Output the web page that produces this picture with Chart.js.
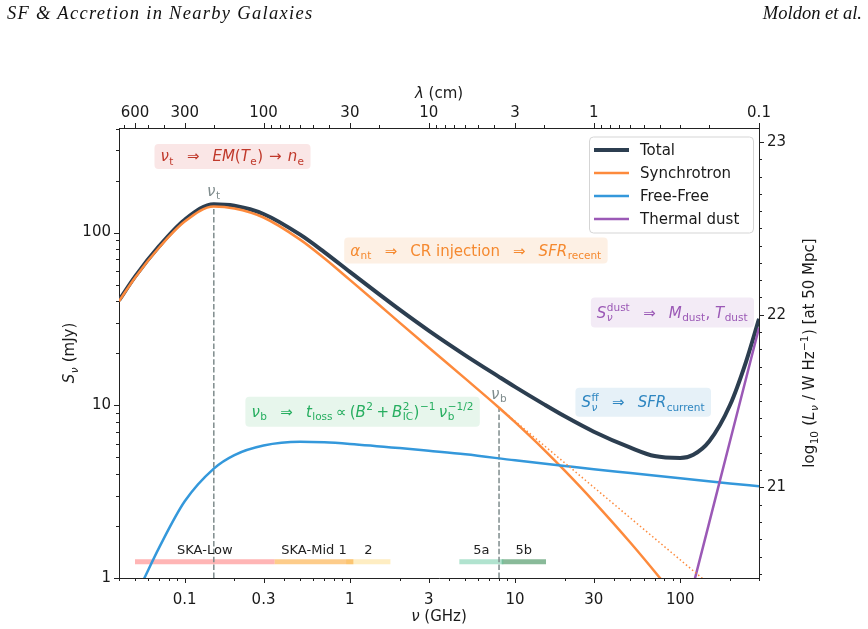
<!DOCTYPE html>
<html>
<head>
<meta charset="utf-8">
<script src="https://cdn.jsdelivr.net/npm/chart.js"></script>
<style>
  html, body { margin: 0; padding: 0; background: #fff; }
  #wrap { position: relative; width: 868px; height: 629px; }
  .hdr { position: absolute; top: 3px; font-family: "Liberation Serif", serif; font-style: italic; font-size: 18.5px; color: #111; }
</style>
</head>
<body>
<div id="wrap">
  <canvas id="sed" width="868" height="629"></canvas>
  <div class="hdr" style="left:7px; letter-spacing:1.3px">SF &amp; Accretion in Nearby Galaxies</div>
  <div class="hdr" style="right:6px">Moldon et al.</div>
</div>
<script>
// --- data (frequency in GHz, flux density in mJy) ---
const nuTotal = [0.04, 0.05, 0.07, 0.1, 0.15, 0.2, 0.3, 0.5, 0.7, 1, 1.5, 2, 3, 5, 8, 10, 15, 20, 30, 50, 70, 100, 120, 150, 200, 250, 300];
const sTotal  = [40.5, 55.6, 83.4, 118.6, 145.8, 142.9, 128.1, 97.2, 77.1, 59.2, 44.0, 35.75, 27.05, 19.46, 14.61, 12.78, 10.12, 8.63, 7.03, 5.68, 5.08, 4.95, 5.17, 6.19, 10.0, 17.8, 31.7];

const nuSynch = [0.04, 0.05, 0.07, 0.1, 0.15, 0.2, 0.3, 0.5, 0.7, 1, 1.5, 2, 3, 5, 8, 10, 15, 20, 30, 50, 77, 100];
const sSynch  = [40, 54.8, 81.9, 115.8, 141.5, 137.7, 122.2, 91, 71, 53.2, 38.2, 30.1, 21.6, 14.26, 9.68, 7.98, 5.52, 4.18, 2.77, 1.6, 0.976, 0.714];

const nuFF = [0.05, 0.057, 0.07, 0.1, 0.15, 0.2, 0.3, 0.5, 0.7, 1, 2, 3, 5, 10, 20, 30, 50, 100, 200, 300];
const sFF  = [0.77, 1.0, 1.5, 2.78, 4.3, 5.15, 5.85, 6.15, 6.1, 5.97, 5.65, 5.45, 5.2, 4.8, 4.45, 4.26, 4.05, 3.78, 3.53, 3.4];

const nuDust = [100, 150, 200, 300];
const sDust  = [0.46, 2.1, 6.17, 28.1];

// unbroken synchrotron continuation past the break
const nuSynchExt = [8, 150];
const sSynchExt  = [9.68, 0.92];

// turnover and break frequencies, and the curve value where their markers stop
const nuTurn = 0.15, sTurnTop = 141.5;
const nuBreak = 8, sBreakTop = 9.68;

// SKA bands (GHz)
const bandNames = ['SKA-Low', 'SKA-Mid 1', '2', '5a', '5b'];
const bandLo = [0.05, 0.35, 0.95, 4.6, 8.3];
const bandHi = [0.35, 1.05, 1.76, 8.5, 15.4];
const bandLevel = 1.24;

// axes
const nuTicks = [0.1, 0.3, 1, 3, 10, 30, 100];
const lamTicks = [600, 300, 100, 30, 10, 3, 1, 0.1];
const fluxTicks = [1, 10, 100];
const lumTicks = [21, 22, 23];
const nuMin = 0.04, nuMax = 300, sMin = 1, sMax = 403;
const lamPerGHz = 30;          // lambda[cm] = 30 / nu[GHz]
const lumOffset = 20.476;      // log10(4 pi d^2) at 50 Mpc, mJy -> W/Hz

const FONT = '"DejaVu Sans", sans-serif';
const C = { total: '#2c3e50', synch: '#fd8a3c', ff: '#3498db', dust: '#9b59b6', mark: '#7f8c8d', ink: '#1a1a1a' };
const bandColors = ['rgba(255,120,120,0.55)', 'rgba(252,170,60,0.6)', 'rgba(253,215,120,0.45)', 'rgba(100,200,160,0.5)', 'rgba(40,130,70,0.55)'];

const near = (list, v) => list.some(t => Math.abs(t - v) / t < 1e-6);
function logSteps(lo, hi) {
  const out = [];
  for (let e = -3; e <= 4; e++) for (let k = 1; k < 10; k++) {
    const v = parseFloat((k * Math.pow(10, e)).toPrecision(6));
    if (v >= lo * 0.9999 && v <= hi * 1.0001) out.push(v);
  }
  return out;
}

// rich text for the math labels
const I = t => ({ t, it: true });
const R = t => ({ t });
const G = g => ({ g });
const S = (sub, sup, subIt, supIt) => ({ sub, sup, subIt, supIt });
const fontStr = (it, size) => (it ? 'italic ' : '') + size + 'px ' + FONT;

function partWidth(ctx, p, size) {
  if (p.g !== undefined) return p.g;
  if (p.t !== undefined) { ctx.font = fontStr(p.it, size); return ctx.measureText(p.t).width; }
  const ss = size * 0.7; let w = 0;
  if (p.sub) { ctx.font = fontStr(p.subIt, ss); w = Math.max(w, ctx.measureText(p.sub).width); }
  if (p.sup) { ctx.font = fontStr(p.supIt, ss); w = Math.max(w, ctx.measureText(p.sup).width); }
  return w + size * 0.06;
}
function richWidth(ctx, parts, size) {
  return parts.reduce((w, p) => w + partWidth(ctx, p, size), 0);
}
function drawRich(ctx, parts, x, y, size, color) {
  ctx.fillStyle = color; ctx.textBaseline = 'alphabetic'; ctx.textAlign = 'left';
  let cx = x;
  for (const p of parts) {
    if (p.t !== undefined) { ctx.font = fontStr(p.it, size); ctx.fillText(p.t, cx, y); }
    else if (p.g === undefined) {
      const ss = size * 0.7;
      if (p.sub) { ctx.font = fontStr(p.subIt, ss); ctx.fillText(p.sub, cx + size * 0.03, y + size * 0.24); }
      if (p.sup) { ctx.font = fontStr(p.supIt, ss); ctx.fillText(p.sup, cx + size * 0.03, y - size * 0.42); }
    }
    cx += partWidth(ctx, p, size);
  }
}

const ARROW = [G(13), R('⇒'), G(13)];
const notes = [
  { parts: [I('ν'), S('t'), ...ARROW, I('EM'), R('('), I('T'), S('e'), R(')'), G(6), R('→'), G(6), I('n'), S('e')],
    nu: 0.0656, s: 276, align: 'left', h: 25, color: '#c0392b', bg: '#fae6e6' },
  { parts: [I('α'), S('nt'), ...ARROW, R('CR injection'), ...ARROW, I('SFR'), S('recent')],
    nu: 0.924, s: 78.6, align: 'left', h: 26, color: '#f5892f', bg: '#fdf0e4' },
  { parts: [I('ν'), S('b'), ...ARROW, I('t'), S('loss'), G(3), R('∝'), G(3), R('('), I('B'), S(null, '2'), G(3), R('+'), G(3),
            I('B'), S('IC', '2'), R(')'), S(null, '−1'), G(3), I('ν'), S('b', '−1/2')],
    nu: 0.233, s: 9.17, align: 'left', h: 30, color: '#27ae60', bg: '#e7f6ec' },
  { parts: [I('S'), S('ν', 'dust', true), ...ARROW, I('M'), S('dust'), R(', '), I('T'), S('dust')],
    nu: 279.8, s: 34.4, align: 'right', h: 30, color: '#9b59b6', bg: '#f3ebf6' },
  { parts: [I('S'), S('ν', 'ff', true), ...ARROW, I('SFR'), S('current')],
    nu: 153.6, s: 10.4, align: 'right', h: 29, color: '#2e86c1', bg: '#e6f1f8' }
];

function roundBox(ctx, x, y, w, h, r) {
  ctx.beginPath();
  ctx.moveTo(x + r, y); ctx.lineTo(x + w - r, y); ctx.arcTo(x + w, y, x + w, y + r, r);
  ctx.lineTo(x + w, y + h - r); ctx.arcTo(x + w, y + h, x + w - r, y + h, r);
  ctx.lineTo(x + r, y + h); ctx.arcTo(x, y + h, x, y + h - r, r);
  ctx.lineTo(x, y + r); ctx.arcTo(x, y, x + r, y, r); ctx.closePath();
}

const toPts = (xs, ys) => xs.map((x, i) => ({ x, y: ys[i] }));
function curve(label, xs, ys, color, width, order) {
  return { label, data: toPts(xs, ys), borderColor: color, borderWidth: width, pointRadius: 0,
           cubicInterpolationMode: 'monotone', fill: false, clip: 0, order, inLegend: true };
}

const datasets = [
  curve('Total', nuTotal, sTotal, C.total, 4, 5),
  curve('Synchrotron', nuSynch, sSynch, C.synch, 2.5, 4),
  curve('Free-Free', nuFF, sFF, C.ff, 2.5, 3),
  curve('Thermal dust', nuDust, sDust, C.dust, 2.5, 2),
  { data: toPts(nuSynchExt, sSynchExt), borderColor: C.synch, borderWidth: 1.5, borderDash: [1.5, 2.5],
    pointRadius: 0, clip: 0, order: 1 },
  { data: [{ x: nuTurn, y: sMin }, { x: nuTurn, y: sTurnTop }], borderColor: C.mark, borderWidth: 1.5,
    borderDash: [5.5, 2.4], pointRadius: 0, clip: 0, order: 9 },
  { data: [{ x: nuBreak, y: sMin }, { x: nuBreak, y: sBreakTop }], borderColor: C.mark, borderWidth: 1.5,
    borderDash: [5.5, 2.4], pointRadius: 0, clip: 0, order: 9 }
];
bandNames.forEach((name, i) => {
  datasets.push({ data: [{ x: bandLo[i], y: bandLevel }, { x: bandHi[i], y: bandLevel }],
    borderColor: bandColors[i], borderWidth: 5, borderCapStyle: 'butt', pointRadius: 0, clip: 0, order: 10 });
});

const decor = {
  id: 'decor',
  afterDatasetsDraw(chart) {
    const ctx = chart.ctx, ca = chart.chartArea, sx = chart.scales.x, sy = chart.scales.y;
    ctx.save();
    // marker labels
    const lt = [I('ν'), S('t')], lb = [I('ν'), S('b')];
    let px = sx.getPixelForValue(nuTurn), py = sy.getPixelForValue(sTurnTop);
    drawRich(ctx, lt, px - richWidth(ctx, lt, 15) / 2, py - 11, 15, C.mark);
    px = sx.getPixelForValue(nuBreak); py = sy.getPixelForValue(sBreakTop);
    drawRich(ctx, lb, px - richWidth(ctx, lb, 15) / 2, py - 9, 15, C.mark);
    // band labels
    ctx.font = '13px ' + FONT; ctx.fillStyle = '#222'; ctx.textAlign = 'center'; ctx.textBaseline = 'alphabetic';
    bandNames.forEach((name, i) => {
      const cx = sx.getPixelForValue(Math.sqrt(bandLo[i] * bandHi[i]));
      ctx.fillText(name, cx, sy.getPixelForValue(bandLevel) - 8);
    });
    // annotation boxes
    for (const n of notes) {
      const w = richWidth(ctx, n.parts, 15) + 12;
      const ax = sx.getPixelForValue(n.nu), ay = sy.getPixelForValue(n.s);
      const x0 = n.align === 'left' ? ax : ax - w;
      roundBox(ctx, x0, ay - n.h / 2, w, n.h, 4);
      ctx.fillStyle = n.bg; ctx.fill();
      drawRich(ctx, n.parts, x0 + 6, ay + 5, 15, n.color);
    }
    // legend
    const items = chart.data.datasets.filter(d => d.inLegend);
    const bx = ca.right - 170, by = ca.top + 8.5, bw = 164, bh = 96;
    roundBox(ctx, bx + 0.5, by + 0.5, bw, bh, 4);
    ctx.fillStyle = 'rgba(255,255,255,0.8)'; ctx.fill();
    ctx.strokeStyle = '#d5d5d5'; ctx.lineWidth = 1; ctx.stroke();
    items.forEach((d, i) => {
      const ly = by + 13.5 + i * 23;
      ctx.beginPath(); ctx.moveTo(bx + 5, ly); ctx.lineTo(bx + 40, ly);
      ctx.strokeStyle = d.borderColor; ctx.lineWidth = d.borderWidth; ctx.stroke();
      ctx.font = '15px ' + FONT; ctx.fillStyle = C.ink; ctx.textAlign = 'left'; ctx.textBaseline = 'middle';
      ctx.fillText(d.label, bx + 51, ly + 1);
    });
    ctx.restore();
  },
  afterDraw(chart) {
    const ctx = chart.ctx, ca = chart.chartArea;
    ctx.save();
    ctx.strokeStyle = '#222'; ctx.lineWidth = 1;
    const sides = { x: 'bottom', x2: 'top', y: 'left', y2: 'right' };
    for (const id in sides) {
      const sc = chart.scales[id];
      for (const t of sc.ticks) {
        const p = Math.round(sc.getPixelForValue(t.value)) + 0.5, len = t.mj ? 5 : 3;
        ctx.beginPath();
        if (sides[id] === 'bottom') { ctx.moveTo(p, ca.bottom); ctx.lineTo(p, ca.bottom + len); }
        if (sides[id] === 'top') { ctx.moveTo(p, ca.top); ctx.lineTo(p, ca.top - len); }
        if (sides[id] === 'left') { ctx.moveTo(ca.left, p); ctx.lineTo(ca.left - len, p); }
        if (sides[id] === 'right') { ctx.moveTo(ca.right, p); ctx.lineTo(ca.right + len, p); }
        ctx.stroke();
      }
    }
    // axis titles
    const cxm = (ca.left + ca.right) / 2, cym = (ca.top + ca.bottom) / 2;
    const tb = [I('ν'), R(' (GHz)')], tt = [I('λ'), R(' (cm)')];
    drawRich(ctx, tb, cxm - richWidth(ctx, tb, 15) / 2, ca.bottom + 43, 15, C.ink);
    drawRich(ctx, tt, cxm - richWidth(ctx, tt, 15) / 2, ca.top - 30, 15, C.ink);
    const tl = [I('S'), S('ν', null, true), R(' (mJy)')];
    ctx.save(); ctx.translate(ca.left - 45, cym); ctx.rotate(-Math.PI / 2);
    drawRich(ctx, tl, -richWidth(ctx, tl, 15) / 2, 0, 15, C.ink); ctx.restore();
    const tr = [R('log'), S('10'), R(' ('), I('L'), S('ν', null, true), R(' / W Hz'), S(null, '−1'), R(') [at 50 Mpc]')];
    ctx.save(); ctx.translate(ca.right + 55, cym); ctx.rotate(-Math.PI / 2);
    drawRich(ctx, tr, -richWidth(ctx, tr, 15) / 2, 0, 15, C.ink); ctx.restore();
    ctx.restore();
  }
};

const tickFont = { family: FONT, size: 15 };
const labelCb = (v, i, ticks) => ticks[i].lab || '';
const axisBase = {
  grid: { display: false, drawTicks: false },
  border: { display: true, color: '#222', width: 1 },
  ticks: { font: tickFont, color: C.ink, autoSkip: false, maxRotation: 0, callback: labelCb }
};

new Chart(document.getElementById('sed'), {
  type: 'line',
  data: { datasets },
  plugins: [decor],
  options: {
    responsive: false, animation: false, events: [],
    layout: { padding: 0 },
    plugins: { legend: { display: false }, tooltip: { enabled: false } },
    scales: {
      x: { ...axisBase, type: 'logarithmic', position: 'bottom', min: nuMin, max: nuMax,
        ticks: { ...axisBase.ticks, padding: 13 },
        afterBuildTicks: a => { a.ticks = logSteps(nuMin, nuMax).map(v => ({ value: v, mj: near(nuTicks, v), lab: near(nuTicks, v) ? String(v) : '' })); },
        afterFit: a => { a.height = 51; } },
      x2: { ...axisBase, type: 'logarithmic', position: 'top', axis: 'x', min: nuMin, max: nuMax,
        ticks: { ...axisBase.ticks, padding: 6 },
        afterBuildTicks: a => {
          a.ticks = logSteps(lamPerGHz / nuMax, lamPerGHz / nuMin)
            .map(l => ({ value: lamPerGHz / l, mj: near(lamTicks, l), lab: near(lamTicks, l) ? String(l) : '' }))
            .sort((p, q) => p.value - q.value);
        },
        afterFit: a => { a.height = 128; } },
      y: { ...axisBase, type: 'logarithmic', position: 'left', min: sMin, max: sMax,
        ticks: { ...axisBase.ticks, padding: 8 },
        afterBuildTicks: a => { a.ticks = logSteps(sMin, sMax).map(v => ({ value: v, mj: near(fluxTicks, v), lab: near(fluxTicks, v) ? String(v) : '' })); },
        afterFit: a => { a.width = 119; } },
      y2: { ...axisBase, type: 'linear', position: 'right', axis: 'y',
        min: lumOffset + Math.log10(sMin), max: lumOffset + Math.log10(sMax),
        ticks: { ...axisBase.ticks, padding: 8 },
        afterBuildTicks: a => {
          const out = [];
          for (let k = Math.ceil(a.min * 10); k <= Math.floor(a.max * 10); k++) {
            const v = k / 10;
            out.push({ value: v, mj: near(lumTicks, v), lab: near(lumTicks, v) ? String(v) : '' });
          }
          a.ticks = out;
        },
        afterFit: a => { a.width = 109; } }
    }
  }
});
</script>
</body>
</html>
